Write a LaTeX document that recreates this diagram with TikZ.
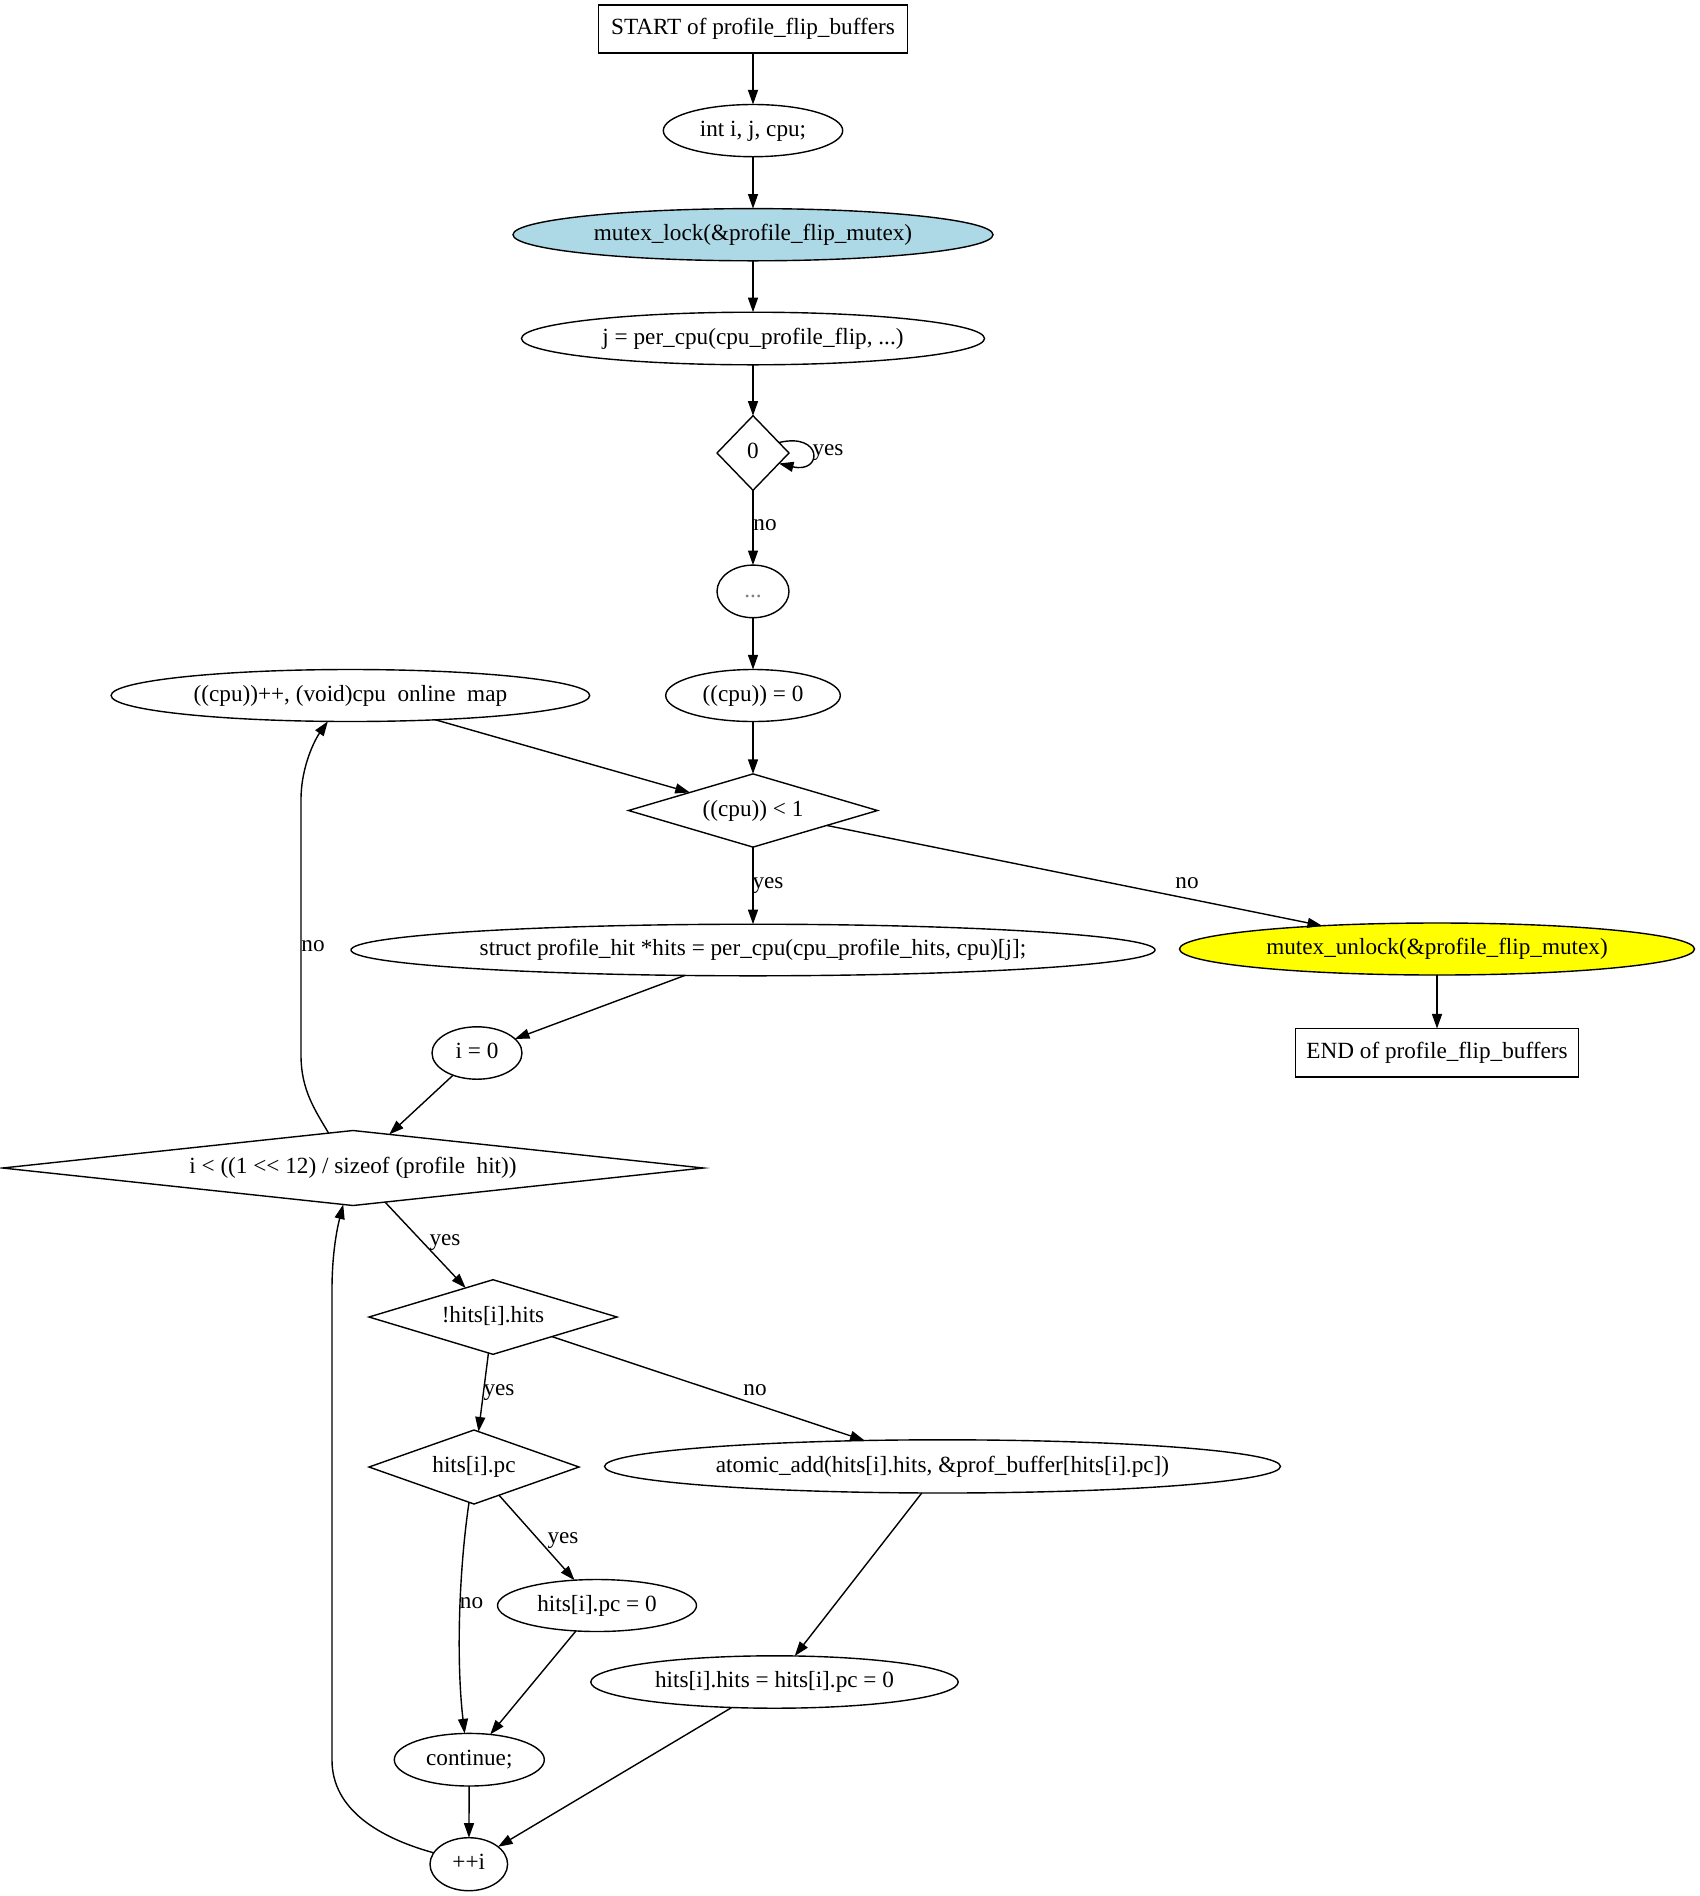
\documentclass[tikz,border=0pt]{standalone}
\usepackage{fontspec}
\setmainfont{Liberation Serif}
\usetikzlibrary{shapes.geometric,arrows.meta}
\definecolor{lblue}{RGB}{173,216,230}
\definecolor{yel}{RGB}{255,255,0}
\tikzset{
  base/.style={draw, line width=0.7pt, inner sep=0pt, outer sep=0pt,
    font=\fontsize{11.6pt}{14pt}\selectfont, text height=8.2pt, text depth=2.6pt},
  box/.style={base, rectangle},
  oval/.style={base, ellipse},
  dia/.style={base, diamond},
  lab/.style={inner sep=0pt, font=\fontsize{11.6pt}{14pt}\selectfont, text height=8.2pt, text depth=2.6pt},
  arr/.style={draw, line width=0.7pt, -{Triangle[length=7.3pt,width=5pt]}}
}
\begin{document}
\begin{tikzpicture}[x=0.5pt,y=-0.5pt]
\useasboundingbox (0,0) rectangle (1700,1896);
\fill[white] (0,0) rectangle (1700,1896);

\node[box, minimum width=154.5pt, minimum height=24pt] (start) at (753,29) {START of profile\_flip\_buffers};
\node[oval, minimum width=89.7pt, minimum height=26.1pt] (decl) at (753,130.6) {int i, j, cpu;};
\node[oval, fill=lblue, minimum width=240pt, minimum height=26.1pt] (lock) at (753,234.7) {mutex\_lock(\&profile\_flip\_mutex)};
\node[oval, minimum width=231.5pt, minimum height=26.3pt] (jflip) at (753,338.5) {j = per\_cpu(cpu\_profile\_flip, ...)};
\node[dia, shape aspect=0.97, minimum width=36pt, minimum height=37.3pt] (d0) at (753,453) {0};
\node[oval, minimum width=36pt, minimum height=26.3pt] (dots) at (753,591.4) {\textcolor{gray}{...}};
\node[oval, minimum width=87.3pt, minimum height=26pt] (cpu0) at (753,695.5) {((cpu)) = 0};
\node[oval, minimum width=239.3pt, minimum height=26pt] (cpuinc) at (350.4,695.5) {((cpu))++, (void)cpu\hspace{0.5em}online\hspace{0.5em}map};
\node[dia, shape aspect=3.4, minimum width=124.5pt, minimum height=36.6pt] (dcpu) at (753,810.5) {((cpu)) < 1};
\node[oval, minimum width=402pt, minimum height=25.8pt] (hitsdecl) at (753,950) {struct profile\_hit *hits = per\_cpu(cpu\_profile\_hits, cpu)[j];};
\node[oval, fill=yel, minimum width=257.5pt, minimum height=26pt] (unlock) at (1437,949) {mutex\_unlock(\&profile\_flip\_mutex)};
\node[box, minimum width=141.75pt, minimum height=24.25pt] (endn) at (1437,1052.8) {END of profile\_flip\_buffers};
\node[oval, minimum width=45pt, minimum height=26.2pt] (i0) at (477,1053) {i = 0};
\node[dia, shape aspect=9.3, minimum width=350.4pt, minimum height=37.5pt] (dl) at (353,1168) {i < ((1 <{}< 12) / sizeof (profile\hspace{0.5em}hit))};
\node[dia, shape aspect=3.3, minimum width=124pt, minimum height=37.3pt] (dhits) at (493,1317) {!hits[i].hits};
\node[dia, shape aspect=2.84, minimum width=105pt, minimum height=37pt] (dpc) at (474,1467) {hits[i].pc};
\node[oval, minimum width=338pt, minimum height=26.6pt] (atomic) at (942.5,1466.4) {atomic\_add(hits[i].hits, \&prof\_buffer[hits[i].pc])};
\node[oval, minimum width=99.5pt, minimum height=26pt] (pc0) at (597,1605.5) {hits[i].pc = 0};
\node[oval, minimum width=183.7pt, minimum height=26.2pt] (hh) at (774.5,1682) {hits[i].hits = hits[i].pc = 0};
\node[oval, minimum width=75pt, minimum height=26.3pt] (cont) at (469.3,1759.7) {continue;};
\node[oval, minimum width=38.8pt, minimum height=26.5pt] (ppi) at (468.8,1864.2) {++i};

% edge labels
\node[lab] (lyes0) at (828,450) {yes};
\node[lab] (lno0) at (765,524.5) {no};
\node[lab] (lyes1) at (768,883) {yes};
\node[lab] (lno1) at (1187,883) {no};
\node[lab] (lno2) at (313,946) {no};
\node[lab] (lyes2) at (445,1240) {yes};
\node[lab] (lyes3) at (499,1390) {yes};
\node[lab] (lno3) at (755,1390) {no};
\node[lab] (lyes4) at (563,1538) {yes};
\node[lab] (lno4) at (471.5,1603) {no};

% edges
\draw[arr] (start) -- (decl);
\draw[arr] (decl) -- (lock);
\draw[arr] (lock) -- (jflip);
\draw[arr] (jflip) -- (d0);
\draw[arr] (d0.22) .. controls (823,432) and (823,474) .. (d0.-22);
\draw[arr] (d0) -- (dots);
\draw[arr] (dots) -- (cpu0);
\draw[arr] (cpu0) -- (dcpu);
\draw[arr] (cpuinc) -- (dcpu);
\draw[arr] (dcpu) -- (hitsdecl);
\draw[arr] (dcpu) -- (unlock);
\draw[arr] (unlock) -- (endn);
\draw[arr] (hitsdecl) -- (i0);
\draw[arr] (i0) -- (dl);
\draw[arr] (dl.125) .. controls (315,1110) and (301,1090) .. (301,1055) -- (301,800) .. controls (301,765) and (316,738) .. (cpuinc.-131);
\draw[arr] (dl) -- (dhits);
\draw[arr] (dhits) -- (dpc);
\draw[arr] (dhits) -- (atomic);
\draw[arr] (dpc) -- (pc0);
\draw[arr] (dpc.-98) .. controls (459,1570) and (456,1660) .. (cont.100);
\draw[arr] (pc0) -- (cont);
\draw[arr] (atomic) -- (hh);
\draw[arr] (hh) -- (ppi);
\draw[arr] (cont) -- (ppi);
\draw[arr] (ppi.162) .. controls (380,1838) and (332,1810) .. (332,1760) -- (332,1290) .. controls (332,1250) and (338,1225) .. (dl.-105);
\end{tikzpicture}
\end{document}
